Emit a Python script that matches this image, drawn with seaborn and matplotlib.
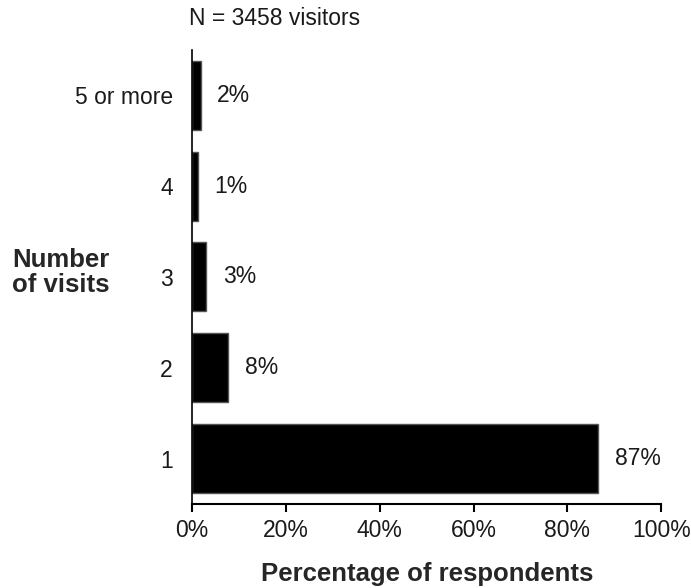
import pandas as pd
import matplotlib.pyplot as plt
import seaborn as sns

# Data
visits = ['5 or more', '4', '3', '2', '1']
percent = [1.8, 1.2, 3.0, 7.7, 86.6]
labels = ['2%', '1%', '3%', '8%', '87%']
x_ticks = [0, 20, 40, 60, 80, 100]

df = pd.DataFrame({'visits': visits, 'percent': percent})

sns.set_style('white')
plt.rcParams['font.family'] = ['Liberation Sans', 'DejaVu Sans']

fig = plt.figure(figsize=(6.91, 5.88), dpi=100)
ax = fig.add_axes([0.278, 0.143, 0.679, 0.772])

sns.barplot(data=df, x='percent', y='visits', orient='h', color='black',
            edgecolor='#555555', linewidth=1, width=0.76, ax=ax)

for i, (v, lab) in enumerate(zip(percent, labels)):
    ax.text(v + 3.5, i, lab, va='center', ha='left', fontsize=16.5, color='#1a1a1a')

ax.set_xlim(0, 100)
ax.set_ylim(4.5, -0.5)
ax.set_xticks(x_ticks)
ax.set_xticklabels([f'{t}%' for t in x_ticks], fontsize=16.5, color='#1a1a1a')
ax.tick_params(axis='y', labelsize=16.5, labelcolor='#1a1a1a', length=0, pad=14)
ax.tick_params(axis='x', bottom=True, length=6, width=1.5, direction='out',
               color='black', pad=5)

for s in ['top', 'right']:
    ax.spines[s].set_visible(False)
for s in ['left', 'bottom']:
    ax.spines[s].set_color('black')
    ax.spines[s].set_linewidth(1.2)
ax.spines['bottom'].set_linewidth(1.5)

ax.set_xlabel('Percentage of respondents', fontsize=18.5, fontweight='bold', labelpad=14)
ax.set_ylabel('')
fig.text(0.018, 0.537, 'Number\nof visits', fontsize=18.5, fontweight='bold',
         ha='left', va='center', linespacing=1.05)
fig.text(0.274, 0.968, 'N = 3458 visitors', fontsize=16.5, ha='left', va='center',
         color='#1a1a1a')

fig.savefig('out.png', dpi=100)
